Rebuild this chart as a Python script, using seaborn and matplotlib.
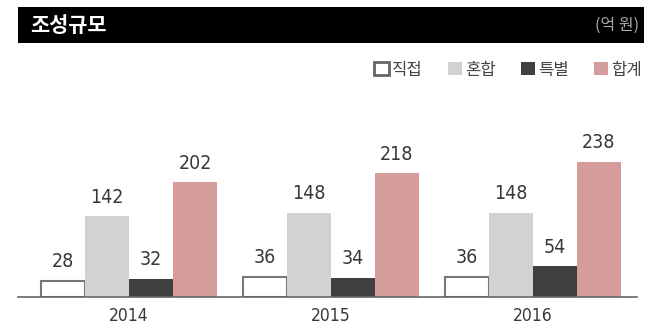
import matplotlib
matplotlib.use("Agg")
import matplotlib.pyplot as plt
from matplotlib.patches import Rectangle, Patch
import seaborn as sns
import pandas as pd

years = ["2014", "2015", "2016"]
series = ["직접", "혼합", "특별", "합계"]
direct = [28, 36, 36]
mixed = [142, 148, 148]
special = [32, 34, 54]
total = [202, 218, 238]
colors = ["#ffffff", "#d1d2d4", "#404041", "#d49c9b"]

rows = []
for name, vals in zip(series, [direct, mixed, special, total]):
    for y, v in zip(years, vals):
        rows.append({"year": y, "type": name, "value": v})
df = pd.DataFrame(rows)

sns.set_theme(style="white")
plt.rcParams["font.family"] = ["Noto Sans CJK KR", "DejaVu Sans"]

fig = plt.figure(figsize=(6.47, 3.27), dpi=100)
ax = fig.add_axes([18 / 647, 30 / 327, 619 / 647, 197 / 327])

sns.barplot(data=df, x="year", y="value", hue="type", hue_order=series,
            palette=colors, width=0.87, gap=0, saturation=1, ax=ax,
            legend=False, linewidth=0, errorbar=None)

num_font = dict(family="DejaVu Sans", stretch="condensed", size=14,
                color="#383838")
for i, cont in enumerate(ax.containers):
    if i == 0:
        for p in cont:
            p.set_edgecolor("#777777")
            p.set_linewidth(1.5)
    ax.bar_label(cont, padding=7, **num_font)

ax.set_xlim(-0.55, 2.515)
ax.set_ylim(0, 347)
ax.set_xlabel("")
ax.set_ylabel("")
ax.set_yticks([])
for s in ["top", "left", "right"]:
    ax.spines[s].set_visible(False)
ax.spines["bottom"].set_color("#666666")
ax.spines["bottom"].set_linewidth(1.2)
ax.tick_params(axis="x", length=0, pad=7)
for t in ax.get_xticklabels():
    t.set_fontfamily("DejaVu Sans")
    t.set_fontstretch("condensed")
    t.set_fontsize(12.5)
    t.set_color("#383838")

# header bar
fig.patches.append(Rectangle((18 / 647, 1 - 43 / 327), 626 / 647, 36 / 327,
                             transform=fig.transFigure, facecolor="black",
                             edgecolor="none", zorder=0))
fig.text(30 / 647, 1 - 25 / 327, "조성규모", color="white", fontsize=15,
         fontweight="bold", va="center", ha="left")
fig.text(639 / 647, 1 - 25 / 327, "(억 원)", color="#aaaaaa", fontsize=11.5,
         va="center", ha="right")

handles = [Patch(facecolor=c, edgecolor=("#666666" if i == 0 else c),
                 linewidth=(2 if i == 0 else 0)) for i, c in enumerate(colors)]
fig.legend(handles, series, loc="center right",
           bbox_to_anchor=(649 / 647, 1 - 70 / 327), ncol=4, frameon=False,
           handlelength=0.85, handleheight=0.85, handletextpad=0.2,
           columnspacing=1.5, fontsize=12, labelcolor="#444444",
           borderaxespad=0)

fig.savefig("out.png", dpi=100)
